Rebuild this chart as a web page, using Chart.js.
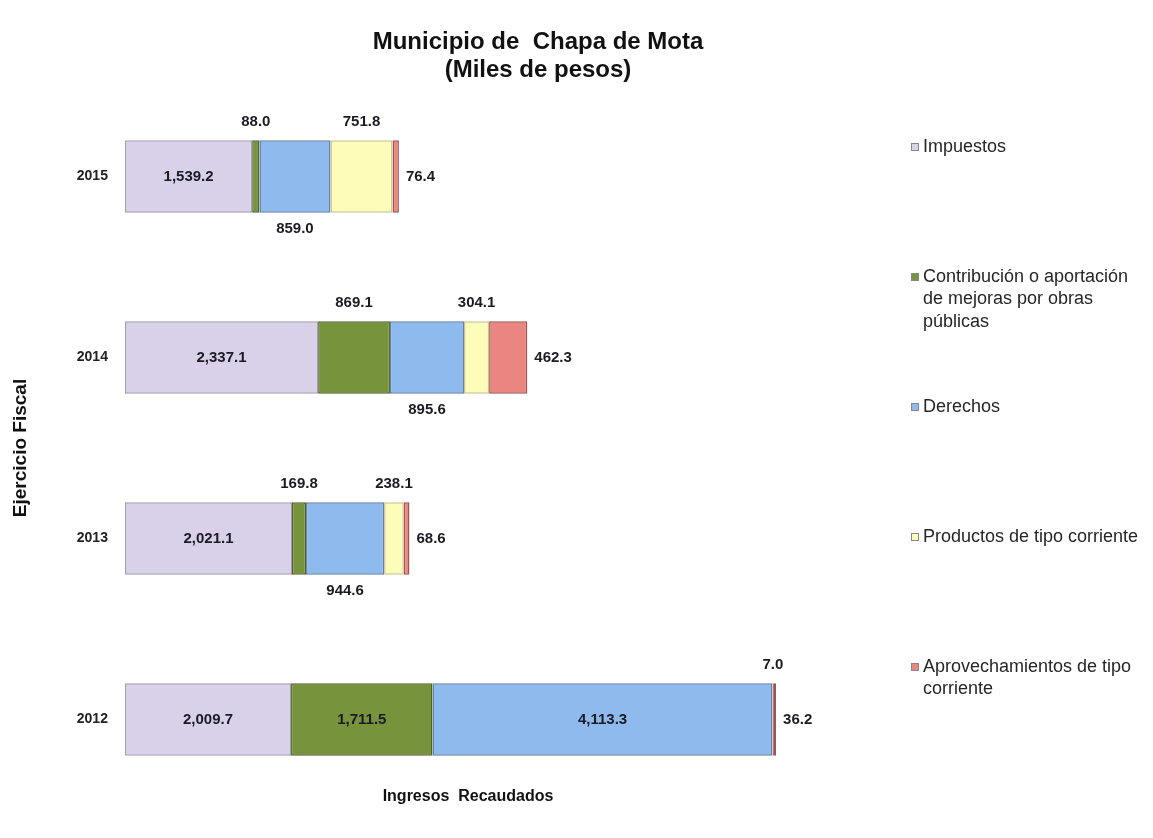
<!DOCTYPE html>
<html>
<head>
<meta charset="utf-8">
<title>Municipio de Chapa de Mota</title>
<script src="https://cdn.jsdelivr.net/npm/chart.js@4"></script>
<style>
  body { margin: 0; background: #fff; }
  #wrap { width: 1153px; height: 838px; }
</style>
</head>
<body>
<div id="wrap"><canvas id="ingresosChart" width="1153" height="838"></canvas></div>
<script>
// Data (miles de pesos)
const years = ['2015', '2014', '2013', '2012'];
const impuestos = [1539.2, 2337.1, 2021.1, 2009.7];
const contribucion = [88.0, 869.1, 169.8, 1711.5];
const derechos = [859.0, 895.6, 944.6, 4113.3];
const productos = [751.8, 304.1, 238.1, 7.0];
const aprovechamientos = [76.4, 462.3, 68.6, 36.2];
const seriesNames = [
  'Impuestos',
  'Contribución o aportación de mejoras por obras públicas',
  'Derechos',
  'Productos de tipo corriente',
  'Aprovechamientos de tipo corriente'
];

const fills = ['#d9d1ea', '#77933c', '#8fbaee', '#fdfcb9', '#ea8581'];
const borders = ['#a39db2', '#4f6228', '#5f80a8', '#c9c58e', '#a3534f'];
// where the value label goes when the bar is too short to hold it
const labelPos = ['center', 'above', 'below', 'above', 'right'];

const labelFont = "bold 15px 'Liberation Sans Narrow', 'Liberation Sans', Arial, sans-serif";

function fmt(v) {
  return v.toLocaleString('en-US', { minimumFractionDigits: 1, maximumFractionDigits: 1 });
}

// value labels drawn on / around each segment
const valueLabels = {
  id: 'valueLabels',
  afterDatasetsDraw(chart) {
    const ctx = chart.ctx;
    ctx.save();
    ctx.font = labelFont;
    ctx.fillStyle = '#1b1b24';
    chart.data.datasets.forEach((ds, i) => {
      const meta = chart.getDatasetMeta(i);
      meta.data.forEach((bar, j) => {
        const p = bar.getProps(['x', 'y', 'base', 'height'], true);
        const v = ds.data[j];
        let pos = labelPos[i];
        if (v >= 1000) pos = 'center';
        const cx = (p.x + p.base) / 2;
        const top = p.y - p.height / 2;
        const bottom = p.y + p.height / 2;
        ctx.textBaseline = 'middle';
        if (pos === 'center') {
          ctx.textAlign = 'center';
          ctx.fillText(fmt(v), cx, p.y);
        } else if (pos === 'above') {
          ctx.textAlign = 'center';
          ctx.fillText(fmt(v), cx, top - 18);
        } else if (pos === 'below') {
          ctx.textAlign = 'center';
          ctx.fillText(fmt(v), cx, bottom + 16);
        } else {
          ctx.textAlign = 'left';
          ctx.fillText(fmt(v), p.x + 7, p.y);
        }
      });
    });
    ctx.restore();
  }
};

// titles and the side legend
const extras = {
  id: 'extras',
  beforeDraw(chart) {
    const ctx = chart.ctx;
    ctx.save();
    ctx.fillStyle = '#fff';
    ctx.fillRect(0, 0, chart.width, chart.height);
    ctx.restore();
  },
  afterDraw(chart) {
    const ctx = chart.ctx;
    ctx.save();
    ctx.fillStyle = '#111';
    ctx.textAlign = 'center';
    ctx.textBaseline = 'middle';
    ctx.font = "bold 24px 'Liberation Sans', Arial, sans-serif";
    ctx.fillText('Municipio de  Chapa de Mota', 538, 42);
    ctx.fillText('(Miles de pesos)', 538, 70);

    ctx.font = "bold 16px 'Liberation Sans', Arial, sans-serif";
    ctx.fillText('Ingresos  Recaudados', 468, 797);

    // legend
    ctx.font = "18px 'Liberation Sans', Arial, sans-serif";
    ctx.textAlign = 'left';
    ctx.fillStyle = '#262626';
    seriesNames.forEach((name, i) => {
      const y0 = 147 + i * 130;
      const words = name.split(' ');
      const lines = [];
      let line = '';
      words.forEach(w => {
        const test = line ? line + ' ' + w : w;
        if (ctx.measureText(test).width > 222 && line) {
          lines.push(line);
          line = w;
        } else {
          line = test;
        }
      });
      lines.push(line);
      ctx.fillStyle = fills[i];
      ctx.fillRect(911, y0 - 4, 8, 8);
      ctx.strokeStyle = '#888';
      ctx.lineWidth = 1;
      ctx.strokeRect(911.5, y0 - 3.5, 7, 7);
      ctx.fillStyle = '#262626';
      lines.forEach((l, k) => ctx.fillText(l, 923, y0 + k * 22.5));
    });
    ctx.restore();
  }
};

const seriesData = [impuestos, contribucion, derechos, productos, aprovechamientos];

new Chart(document.getElementById('ingresosChart'), {
  type: 'bar',
  data: {
    labels: years,
    datasets: seriesData.map((d, i) => ({
      label: seriesNames[i],
      data: d,
      backgroundColor: fills[i],
      borderColor: borders[i],
      borderWidth: 1.5,
      borderSkipped: false,
      categoryPercentage: 1,
      barPercentage: 0.4
    }))
  },
  options: {
    indexAxis: 'y',
    responsive: false,
    animation: false,
    layout: {
      padding: { left: 5, right: 342, top: 86, bottom: 28 }
    },
    scales: {
      x: {
        stacked: true,
        min: 0,
        max: 8300,
        display: false
      },
      y: {
        stacked: true,
        grid: { display: false, drawTicks: false },
        border: { display: false },
        ticks: {
          color: '#222',
          padding: 17,
          font: { family: "'Liberation Sans', Arial, sans-serif", size: 14, weight: 'bold' }
        },
        title: {
          display: true,
          text: 'Ejercicio Fiscal',
          color: '#111',
          padding: { top: 4, bottom: 28 },
          font: { family: "'Liberation Sans', Arial, sans-serif", size: 19, weight: 'bold' }
        }
      }
    },
    plugins: {
      legend: { display: false },
      tooltip: { enabled: false },
      title: { display: false }
    }
  },
  plugins: [extras, valueLabels]
});
</script>
</body>
</html>
